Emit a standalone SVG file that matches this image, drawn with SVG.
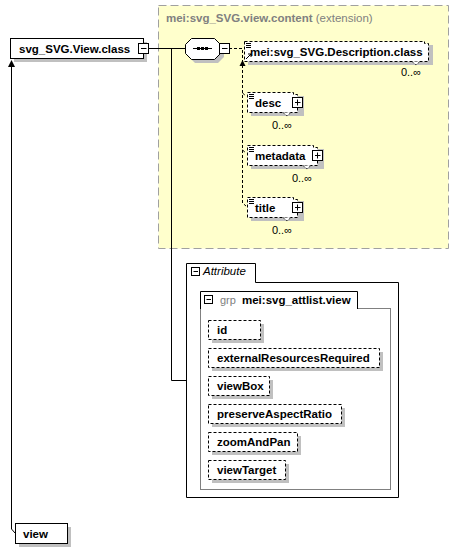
<svg xmlns="http://www.w3.org/2000/svg" width="459" height="552" viewBox="0 0 459 552">
<defs>
<style>
text{font-family:"Liberation Sans",Arial,sans-serif;font-size:11.5px;fill:#000}
.b{font-weight:bold}
.g{fill:#808080}
.card{font-size:11px;font-weight:normal}
.shadow{fill:#c0c0c0;stroke:none}
.box{fill:#fff;stroke:#000;stroke-width:1}
.dbox{fill:#fff;stroke:#000;stroke-width:1;stroke-dasharray:3,2}
.line{fill:none;stroke:#000;stroke-width:1}
.dline{fill:none;stroke:#000;stroke-width:1;stroke-dasharray:3,2}
.icon{fill:#fff;stroke:#000;stroke-width:1}
</style>
<g id="plus"><rect class="icon" x="0.5" y="0.5" width="10" height="10"/><path d="M3 5.5H8.5M5.5 2.5V8.5" stroke="#000" fill="none"/></g>
<g id="minus"><rect class="icon" x="0.5" y="0.5" width="10" height="10"/><path d="M3 5.5H8.5" stroke="#000" fill="none"/></g>
<g id="sminus"><rect class="icon" x="0.5" y="0.5" width="8" height="8"/><path d="M2.5 4.5H7" stroke="#000" fill="none"/></g>
<g id="lines"><path d="M0 0.5H5M0 2.5H5M0 4.5H5" stroke="#000" stroke-width="1" fill="none"/></g>
</defs>

<rect x="158.5" y="5.5" width="290" height="243" fill="#ffffcc" stroke="#a0a0a0" stroke-dasharray="8,4"/>
<text x="166" y="22"><tspan class="b g">mei:svg_SVG.view.content</tspan><tspan class="g"> (extension)</tspan></text>

<g id="connectors">
<path class="line" d="M148 48.5H186M171.5 48.5V380.5H186"/>
<path class="dline" d="M229 48.5H242.5V203L246 206"/>
<path class="dline" d="M242.5 93L246 96M242.5 150L246 153"/>
<path d="M239.5 66L242.5 60L245.5 66Z" fill="#000"/>
<path class="line" d="M11.5 64V529L15 533"/>
<path d="M8 67L11.5 60L15 67Z" fill="#000"/>
</g>

<g id="main">
<rect class="shadow" x="14" y="42" width="133" height="20"/>
<rect class="box" x="10.5" y="38.5" width="133" height="20"/>
<text class="b" x="19" y="52.5">svg_SVG.View.class</text>
<use href="#minus" x="138" y="43"/>
</g>

<g id="sequence">
<polygon class="shadow" points="195,42 218,42 224,48 224,57 218,63 195,63 189,57 189,48"/>
<polygon class="box" points="191.5,38.5 214.5,38.5 220.5,44.5 220.5,53.5 214.5,59.5 191.5,59.5 185.5,53.5 185.5,44.5"/>
<path d="M193 48.5H212" stroke="#000"/>
<rect x="197" y="47" width="3" height="3" fill="#000"/>
<rect x="201" y="47" width="3" height="3" fill="#000"/>
<rect x="205" y="47" width="3" height="3" fill="#000"/>
<use href="#minus" x="219" y="43"/>
</g>

<g id="description-class">
<rect class="shadow" x="248" y="45" width="185" height="20"/>
<path class="dbox" d="M244.5 41.5H424.5V43.5H428.5V61.5H244.5Z"/>
<use href="#lines" x="246" y="43"/>
<path d="M246 59L251 54M248 54H251V57" stroke="#000" fill="none"/>
<path d="M412 61.5L416 65L420 61.5" fill="#fff" stroke="#000" stroke-dasharray="1,1"/>
<text class="b" x="250" y="55.5">mei:svg_SVG.Description.class</text>
<text class="card" x="421" y="76" text-anchor="end">0..∞</text>
</g>

<g id="desc">
<rect class="shadow" x="251" y="96" width="53" height="20"/>
<path class="dbox" d="M247.5 92.5H293.5V94.5H297.5V112.5H247.5Z"/>
<use href="#lines" x="249" y="94"/>
<path d="M283 112.5L287 116L291 112.5" fill="#fff" stroke="#000" stroke-dasharray="1,1"/>
<text class="b" x="255" y="106.5">desc</text>
<use href="#plus" x="292" y="97"/>
<text class="card" x="292" y="129" text-anchor="end">0..∞</text>
</g>

<g id="metadata">
<rect class="shadow" x="251" y="149" width="73" height="20"/>
<path class="dbox" d="M247.5 145.5H313.5V147.5H317.5V165.5H247.5Z"/>
<use href="#lines" x="249" y="147"/>
<path d="M303 165.5L307 169L311 165.5" fill="#fff" stroke="#000" stroke-dasharray="1,1"/>
<text class="b" x="255" y="159.5">metadata</text>
<use href="#plus" x="312" y="150"/>
<text class="card" x="312" y="182" text-anchor="end">0..∞</text>
</g>

<g id="title">
<rect class="shadow" x="251" y="201" width="53" height="20"/>
<path class="dbox" d="M247.5 197.5H293.5V199.5H297.5V217.5H247.5Z"/>
<use href="#lines" x="249" y="199"/>
<path d="M283 217.5L287 221L291 217.5" fill="#fff" stroke="#000" stroke-dasharray="1,1"/>
<text class="b" x="255" y="211.5">title</text>
<use href="#plus" x="292" y="202"/>
<text class="card" x="292" y="234" text-anchor="end">0..∞</text>
</g>

<g id="attribute-group">
<path d="M186.5 497.5V263.5H255.5V282.5H398.5V497.5Z" fill="#fff" stroke="#000"/>
<use href="#sminus" x="191" y="267"/>
<text x="203" y="275" font-style="italic" font-size="11px">Attribute</text>
<rect x="200.5" y="308.5" width="190" height="181" fill="none" stroke="#808080"/>
<path d="M200.5 309V291.5H357.5V309" fill="#fff" stroke="#000"/>
<use href="#sminus" x="204" y="295"/>
<text x="220" y="304"><tspan class="g" font-size="11px">grp</tspan><tspan class="b" x="242">mei:svg_attlist.view</tspan></text>
</g>

<g id="attr-id">
<rect class="shadow" x="212" y="324" width="52" height="19"/>
<rect class="dbox" x="208.5" y="320.5" width="52" height="19"/>
<text class="b" x="217" y="334">id</text>
</g>
<g id="attr-externalResourcesRequired">
<rect class="shadow" x="212" y="352" width="171" height="19"/>
<rect class="dbox" x="208.5" y="348.5" width="171" height="19"/>
<text class="b" x="217" y="362">externalResourcesRequired</text>
</g>
<g id="attr-viewBox">
<rect class="shadow" x="212" y="380" width="61" height="19"/>
<rect class="dbox" x="208.5" y="376.5" width="61" height="19"/>
<text class="b" x="217" y="390">viewBox</text>
</g>
<g id="attr-preserveAspectRatio">
<rect class="shadow" x="212" y="408" width="133" height="19"/>
<rect class="dbox" x="208.5" y="404.5" width="133" height="19"/>
<text class="b" x="217" y="418">preserveAspectRatio</text>
</g>
<g id="attr-zoomAndPan">
<rect class="shadow" x="212" y="436" width="89" height="19"/>
<rect class="dbox" x="208.5" y="432.5" width="89" height="19"/>
<text class="b" x="217" y="446">zoomAndPan</text>
</g>
<g id="attr-viewTarget">
<rect class="shadow" x="212" y="464" width="77" height="19"/>
<rect class="dbox" x="208.5" y="460.5" width="77" height="19"/>
<text class="b" x="217" y="474">viewTarget</text>
</g>

<g id="view">
<rect class="shadow" x="19" y="527" width="52" height="20"/>
<rect class="box" x="15.5" y="523.5" width="52" height="20"/>
<text class="b" x="23" y="537.5">view</text>
</g>
</svg>
